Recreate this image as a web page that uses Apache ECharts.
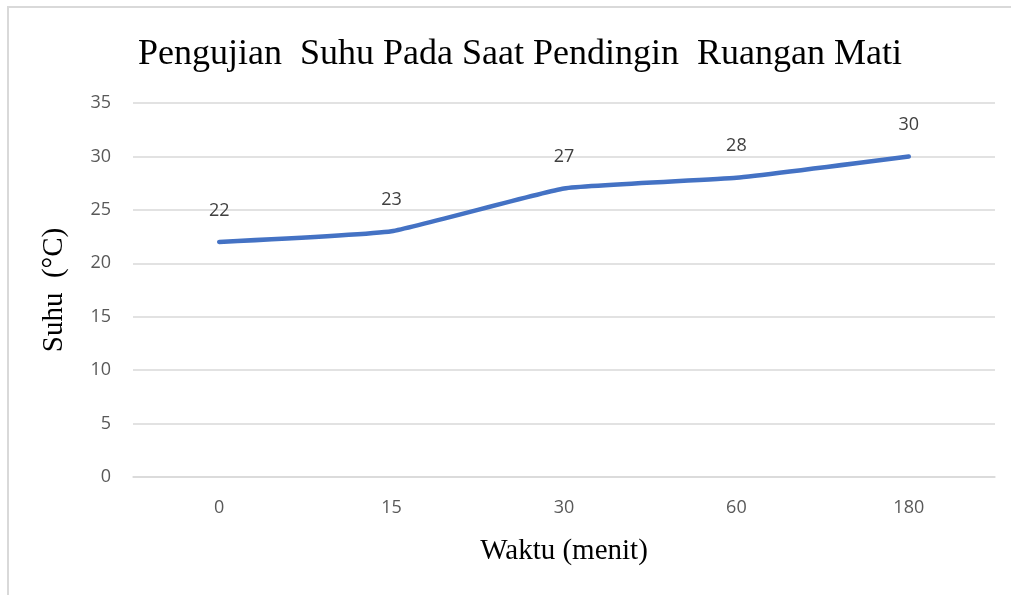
<!DOCTYPE html>
<html>
<head>
<meta charset="UTF-8">
<title>Pengujian Suhu</title>
<script src="https://cdn.jsdelivr.net/npm/echarts@6/dist/echarts.min.js"></script>
<style>
  html, body { margin: 0; padding: 0; background: #fff; }
  #frame { position: absolute; left: 7px; top: 6px; width: 1010px; height: 600px;
           border-left: 2px solid #d9d9d9; border-top: 2px solid #d9d9d9; }
  #main { position: absolute; left: 0; top: 0; width: 1011px; height: 595px; }
</style>
</head>
<body>
<div id="frame"></div>
<div id="main"></div>
<script>
// data
var waktu = ['0', '15', '30', '60', '180'];
var suhu = [22, 23, 27, 28, 30];
var yTicks = [0, 35, 5]; // min, max, interval

var chart = echarts.init(document.getElementById('main'));
var option = {
    animation: false,
    title: {
        text: 'Pengujian  Suhu Pada Saat Pendingin  Ruangan Mati',
        left: 515,
        textAlign: 'center',
        top: 32,
        textStyle: { fontFamily: 'Liberation Serif', fontSize: 36, fontWeight: 'normal', color: '#000' }
    },
    grid: { left: 133, right: 16, top: 103, bottom: 118 },
    xAxis: {
        type: 'category',
        data: waktu,
        name: 'Waktu (menit)',
        nameLocation: 'middle',
        nameGap: 60,
        nameTextStyle: { fontFamily: 'Liberation Serif', fontSize: 29, color: '#000' },
        axisLine: { lineStyle: { color: '#d9d9d9', width: 1.5 } },
        axisTick: { show: false },
        axisLabel: { margin: 22, fontFamily: 'Open Sans', fontSize: 18, color: '#595959' }
    },
    yAxis: {
        type: 'value',
        min: yTicks[0],
        max: yTicks[1],
        interval: yTicks[2],
        name: 'Suhu  (°C)',
        nameLocation: 'middle',
        nameGap: 64,
        nameTextStyle: { fontFamily: 'Liberation Serif', fontSize: 29, color: '#000' },
        axisLine: { show: false },
        axisTick: { show: false },
        splitLine: { lineStyle: { color: '#d9d9d9', width: 1.5 } },
        axisLabel: { margin: 22, fontFamily: 'Open Sans', fontSize: 18, color: '#595959' }
    },
    series: [{
        type: 'line',
        data: suhu,
        smooth: 0.12,
        symbol: 'circle',
        symbolSize: 1,
        itemStyle: { color: '#4472c4', opacity: 0 },
        lineStyle: { color: '#4472c4', width: 4.5, cap: 'round' },
        label: {
            show: true,
            position: 'top',
            distance: 22,
            fontFamily: 'Open Sans',
            fontSize: 18,
            color: '#404040',
            opacity: 1
        }
    }]
};
chart.setOption(option);
</script>
</body>
</html>
